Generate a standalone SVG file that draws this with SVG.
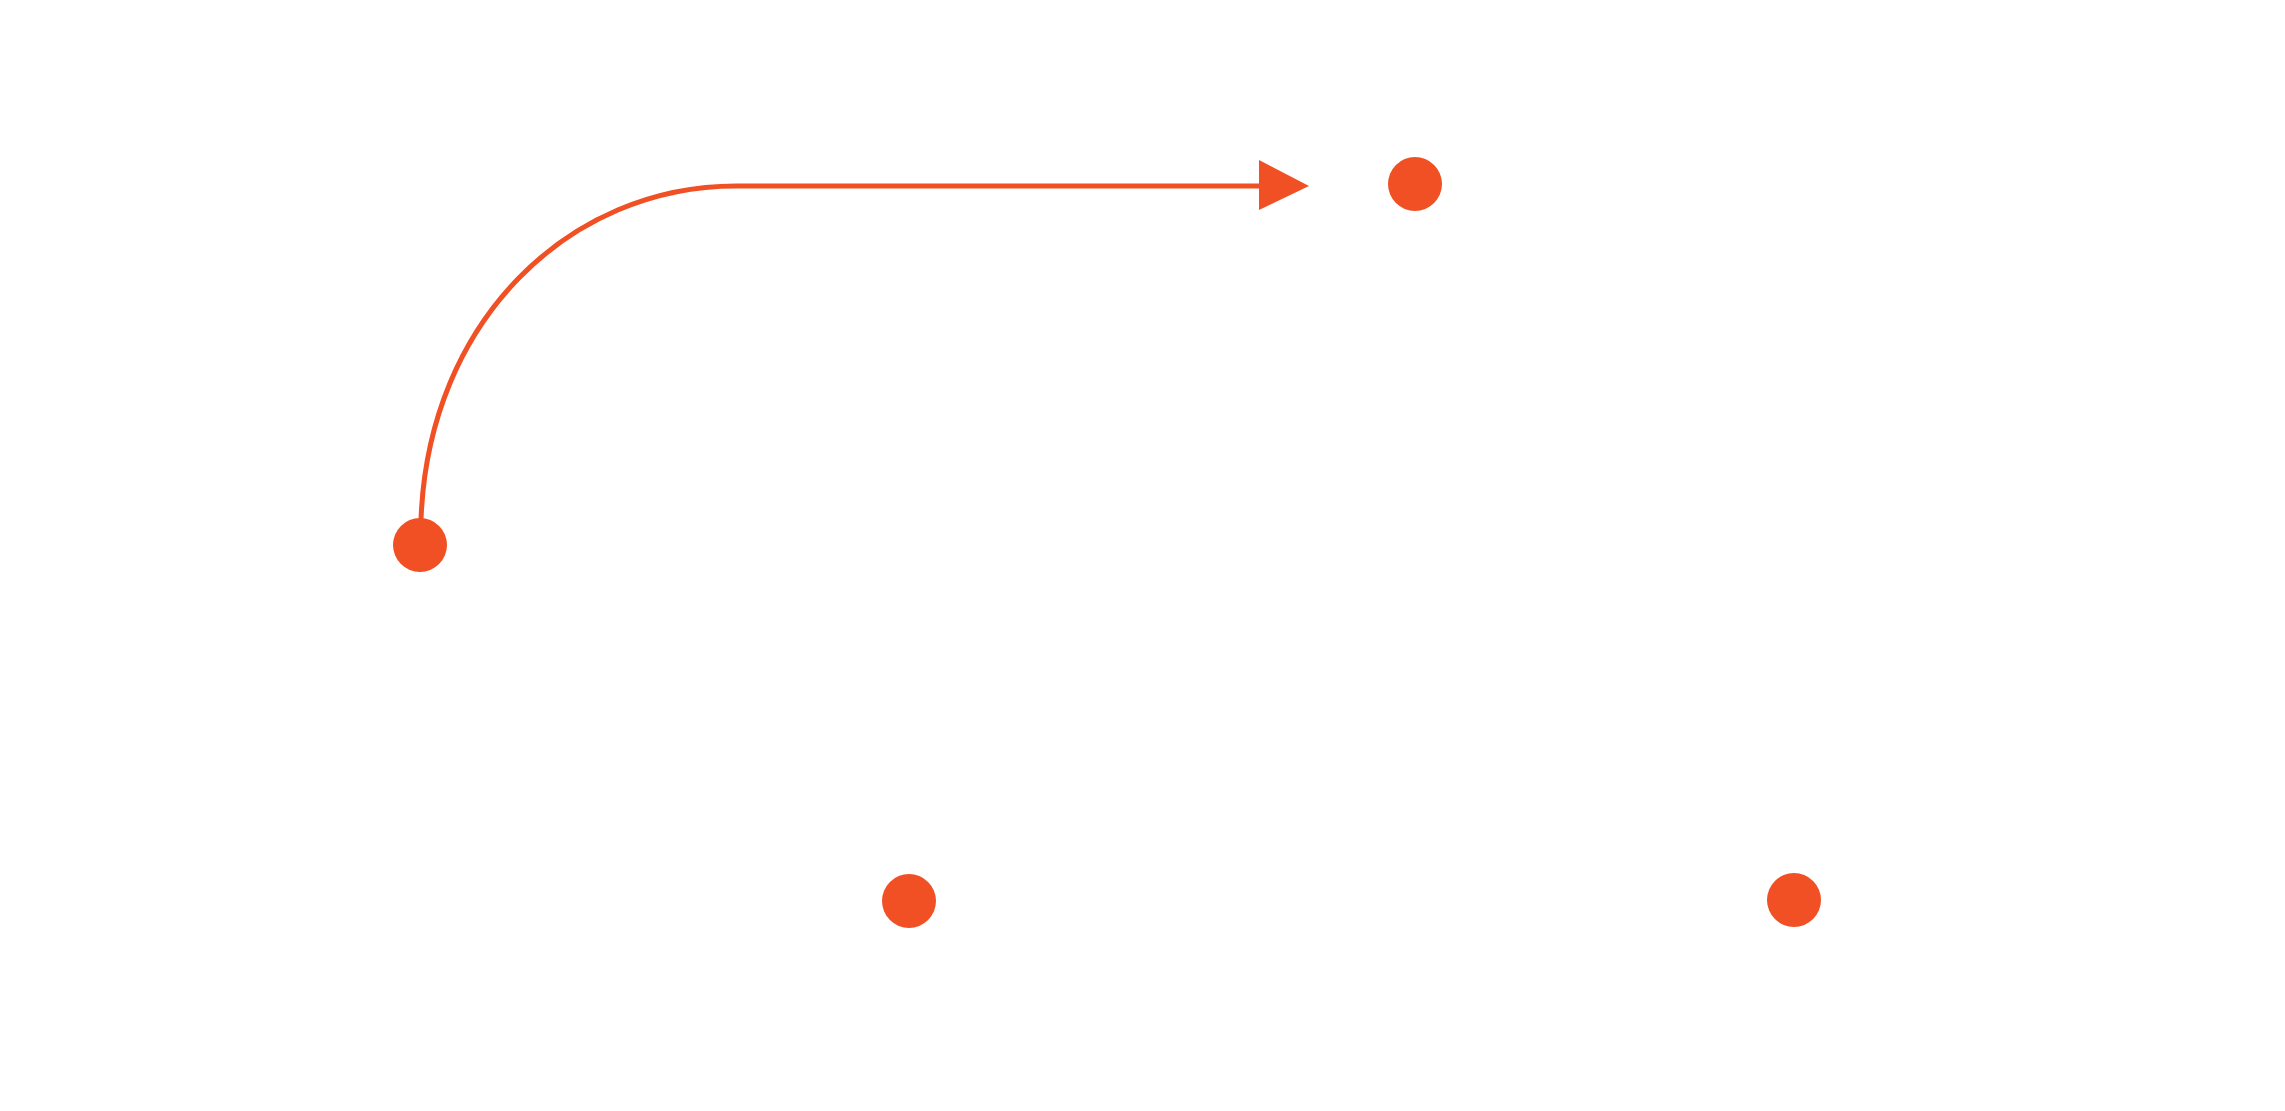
<svg xmlns="http://www.w3.org/2000/svg" width="2285" height="1111" viewBox="0 0 2285 1111">
<style>.n{fill:#f05023}.c{fill:none;stroke:#f05023;stroke-width:5}</style>
<rect width="2285" height="1111" fill="#fff"/>
<g id="connectors">
<path class="c" d="M421,520 C428,320 570,186 736,186 L1262,186"/>
<polygon class="n" points="1259,160 1309,186 1259,210"/>
</g>
<g id="n1"><circle class="n" cx="420" cy="545" r="27"/></g>
<g id="n2"><circle class="n" cx="1415" cy="184" r="27"/></g>
<g id="n3"><circle class="n" cx="909" cy="901" r="27"/></g>
<g id="n4"><circle class="n" cx="1794" cy="900" r="27"/></g>
</svg>
